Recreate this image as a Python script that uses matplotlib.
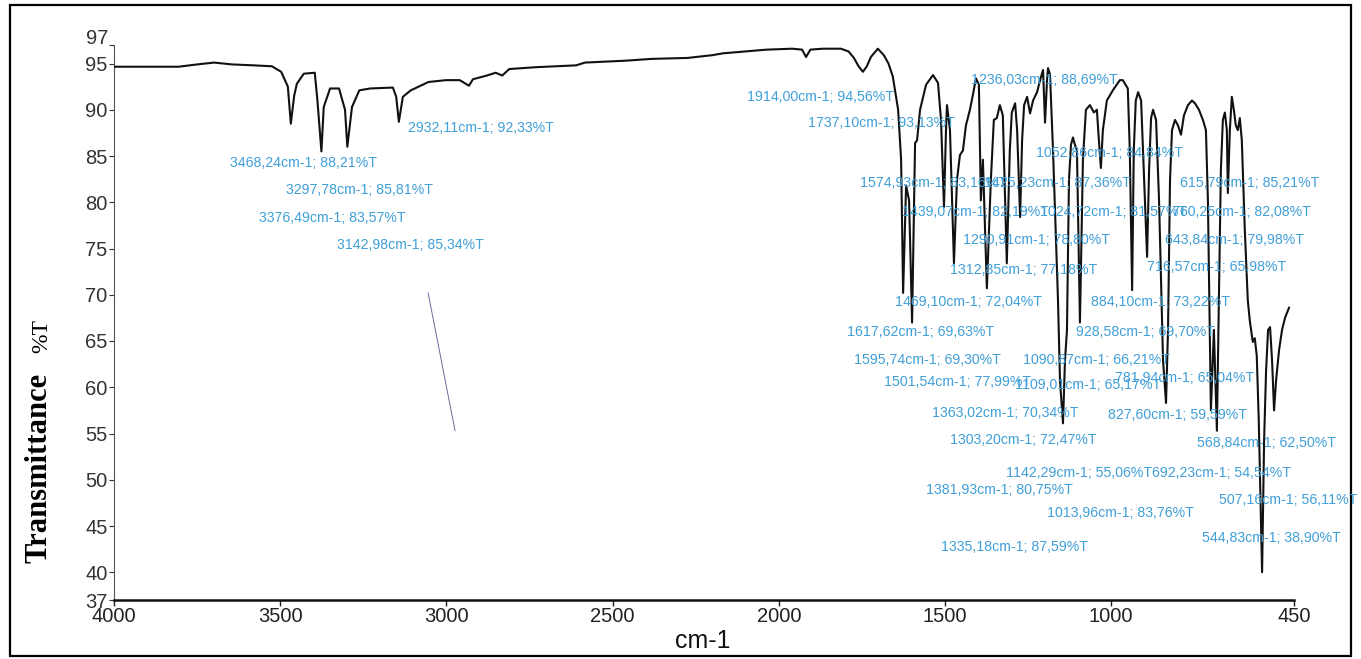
import matplotlib.pyplot as plt
from matplotlib.patches import Rectangle

# spectrum (cm-1, %T)
wavenumber = [
    4000, 3900, 3806, 3750, 3699, 3645, 3580, 3525, 3497, 3477, 3468, 3458, 3450,
    3429, 3396, 3388, 3376, 3369, 3350, 3323, 3305, 3298, 3284, 3262, 3229, 3161,
    3151, 3143, 3131, 3107, 3054, 3001, 2960, 2932, 2920, 2878, 2852, 2832, 2811,
    2731, 2610, 2583, 2463, 2382, 2275, 2200, 2168, 2100, 2036, 1960, 1930, 1918,
    1905, 1867, 1813, 1790, 1774, 1760, 1747, 1735, 1723, 1702, 1684, 1670, 1657,
    1641, 1632, 1626, 1617, 1608, 1599, 1593, 1590, 1584, 1575, 1557, 1536, 1521,
    1512, 1503, 1497, 1494, 1485, 1473, 1464, 1455, 1446, 1437, 1425, 1416, 1407,
    1398, 1392, 1386, 1374, 1362, 1353, 1344, 1335, 1326, 1314, 1305, 1299, 1289,
    1283, 1274, 1268, 1262, 1253, 1244, 1235, 1223, 1214, 1205, 1199, 1193, 1190,
    1184, 1175, 1160, 1154, 1145, 1139, 1133, 1127, 1121, 1115, 1109, 1103, 1094,
    1085, 1076, 1064, 1052, 1043, 1037, 1031, 1025, 1013, 995, 974, 965, 950,
    944, 937, 932, 926, 919, 910, 901, 892, 886, 880, 874, 865, 856, 844, 835,
    829, 823, 817, 808, 799, 790, 781, 769, 757, 748, 736, 724, 715, 709, 700,
    691, 682, 676, 670, 664, 658, 652, 649, 643, 637, 631, 625, 619, 613, 607,
    598, 589, 583, 574, 568, 562, 556, 546, 540, 534, 528, 522, 516, 510, 504,
    495, 486, 477, 465,
]
transmittance = [
    94.65, 94.65, 94.65, 94.9, 95.1, 94.9, 94.8, 94.7, 94.1, 92.5, 88.5, 91.5, 92.8,
    93.9, 94.0, 91.0, 85.5, 90.3, 92.3, 92.3, 90.0, 86.0, 90.3, 92.1, 92.3, 92.4,
    91.4, 88.7, 91.4, 92.1, 93.0, 93.2, 93.2, 92.6, 93.3, 93.7, 94.0, 93.7, 94.4,
    94.6, 94.8, 95.1, 95.3, 95.5, 95.6, 95.9, 96.1, 96.3, 96.5, 96.6, 96.5, 95.7,
    96.5, 96.6, 96.6, 96.3, 95.6, 94.7, 94.1, 94.7, 95.7, 96.6, 95.9, 95.0, 93.6,
    90.0, 84.6, 70.2, 81.8, 80.2, 67.0, 80.2, 86.4, 86.7, 90.0, 92.7, 93.75, 92.9,
    88.9, 79.5, 87.8, 90.5, 87.8, 73.4, 82.4, 85.1, 85.6, 88.3, 90.0, 91.6, 93.4,
    92.7, 80.2, 84.6, 70.7, 82.4, 88.9, 89.1, 90.5, 89.4, 73.4, 85.6, 89.7, 90.7,
    87.8, 78.4, 86.7, 90.5, 91.4, 89.6, 91.0, 91.9, 93.2, 94.3, 88.6, 93.2, 94.5,
    93.8, 85.6, 69.4, 60.7, 56.1, 62.9, 66.2, 82.4, 86.2, 87.0, 86.2, 85.6, 67.0,
    84.6, 90.0, 90.5, 89.7, 90.0, 86.7, 83.7, 87.8, 91.0, 92.1, 93.2, 93.2, 92.3,
    85.6, 70.5, 85.6, 91.0, 91.9, 91.0, 82.4, 74.1, 83.5, 89.1, 90.0, 88.9, 80.2, 62.9, 58.3,
    66.2, 82.4, 87.8, 88.9, 88.3, 87.3, 89.4, 90.5, 91.0, 90.7, 90.0, 88.9, 87.8, 80.2, 57.5,
    66.2, 55.3, 69.4, 83.5, 88.9, 89.7, 87.8, 81.0, 87.8, 91.4, 90.0, 88.3, 87.8, 89.1, 86.7,
    77.0, 69.4, 67.2, 64.9, 65.3, 63.4, 56.4, 40.0, 54.2, 61.8, 66.2, 66.5, 62.9, 57.5, 60.7,
    64.0, 66.2, 67.5, 68.6,
]

# stray pen stroke in the empty area
stray_x = [3055, 2974]
stray_y = [70.2, 55.3]

x_ticks = [4000, 3500, 3000, 2500, 2000, 1500, 1000, 450]
y_ticks = [97, 95, 90, 85, 80, 75, 70, 65, 60, 55, 50, 45, 40, 37]

# peak annotations: text and where it sits in the picture (pixels)
peak_labels = [
    ("3468,24cm-1; 88,21%T", 230, 163),
    ("3297,78cm-1; 85,81%T", 286, 190),
    ("3376,49cm-1; 83,57%T", 259, 218),
    ("3142,98cm-1; 85,34%T", 337, 245),
    ("2932,11cm-1; 92,33%T", 408, 128),
    ("1914,00cm-1; 94,56%T", 747, 97),
    ("1737,10cm-1; 93,13%T", 808, 123),
    ("1236,03cm-1; 88,69%T", 971, 80),
    ("1052,86cm-1; 84,84%T", 1036, 153),
    ("1574,93cm-1; 83,16%T", 860, 183),
    ("1425,23cm-1; 87,36%T", 984, 183),
    ("615,79cm-1; 85,21%T", 1180, 183),
    ("1439,07cm-1; 82,19%T", 902, 212),
    ("1024,72cm-1; 81,57%T", 1040, 212),
    ("760,25cm-1; 82,08%T", 1172, 212),
    ("1290,91cm-1; 78,80%T", 963, 240),
    ("643,84cm-1; 79,98%T", 1165, 240),
    ("1312,85cm-1; 77,18%T", 950, 270),
    ("716,57cm-1; 65,98%T", 1147, 267),
    ("1469,10cm-1; 72,04%T", 895, 302),
    ("884,10cm-1; 73,22%T", 1091, 302),
    ("1617,62cm-1; 69,63%T", 847, 332),
    ("928,58cm-1; 69,70%T", 1076, 332),
    ("1595,74cm-1; 69,30%T", 854, 360),
    ("1090,87cm-1; 66,21%T", 1023, 360),
    ("1501,54cm-1; 77,99%T", 884, 382),
    ("1109,01cm-1; 65,17%T", 1015, 385),
    ("781,94cm-1; 65,04%T", 1115, 378),
    ("1363,02cm-1; 70,34%T", 932, 413),
    ("827,60cm-1; 59,59%T", 1108, 415),
    ("1303,20cm-1; 72,47%T", 950, 440),
    ("568,84cm-1; 62,50%T", 1197, 443),
    ("1142,29cm-1; 55,06%T", 1006, 473),
    ("692,23cm-1; 54,54%T", 1152, 473),
    ("1381,93cm-1; 80,75%T", 926, 490),
    ("507,16cm-1; 56,11%T", 1219, 500),
    ("1013,96cm-1; 83,76%T", 1047, 513),
    ("544,83cm-1; 38,90%T", 1202, 538),
    ("1335,18cm-1; 87,59%T", 941, 547),
]

W, H = 1361, 659
sans = ['Liberation Sans', 'DejaVu Sans']
serif = ['Liberation Serif', 'DejaVu Serif']

fig = plt.figure(figsize=(W / 100, H / 100), dpi=100)
ax = fig.add_axes([114 / W, 1 - 600 / H, (1294 - 114) / W, (600 - 45) / H])

ax.plot(wavenumber, transmittance, color='#111111', lw=1.5, zorder=3,
        solid_joinstyle='round')
ax.plot(stray_x, stray_y, color='#6b6b9c', lw=0.7, zorder=2)

ax.set_xlim(4000, 450)
ax.set_ylim(37, 97)
ax.set_xticks(x_ticks)
ax.set_yticks(y_ticks)
ax.set_xticklabels([str(v) for v in x_ticks], fontfamily=sans, fontsize=14.5)
# the top label sits a little above its tick in the original, drawn separately below
ax.set_yticklabels([''] + [str(v) for v in y_ticks[1:]], fontfamily=sans, fontsize=14.5)
ax.annotate(str(y_ticks[0]), xy=(0, y_ticks[0]), xycoords=('axes fraction', 'data'),
            xytext=(-4, 5), textcoords='offset points', ha='right', va='center',
            fontfamily=sans, fontsize=14.5, color='#333333')
ax.tick_params(axis='x', length=4, width=1, pad=1, colors='#222222')
ax.tick_params(axis='y', length=3.5, width=0.8, pad=1, colors='#333333')

for side in ('top', 'right'):
    ax.spines[side].set_visible(False)
ax.spines['bottom'].set_linewidth(1.8)
ax.spines['bottom'].set_color('#111111')
ax.spines['left'].set_linewidth(0.8)
ax.spines['left'].set_color('#555555')

for txt, px, py in peak_labels:
    fig.text(px / W, 1 - py / H, txt, ha='left', va='center', fontsize=10.2,
             fontfamily=sans, color='#3f9fd8', zorder=1)

fig.text(703 / W, 1 - 641 / H, 'cm-1', ha='center', va='center',
         fontfamily=sans, fontsize=18, color='#111111')
fig.text(47 / W, 1 - 563 / H, 'Transmittance', rotation=90, rotation_mode='anchor',
         ha='left', va='baseline', fontfamily=serif, fontweight='bold', fontsize=22)
fig.text(47 / W, 1 - 353 / H, '%T', rotation=90, rotation_mode='anchor',
         ha='left', va='baseline', fontfamily=serif, fontsize=17)

fig.patches.append(Rectangle((10 / W, 3 / H), 1341 / W, 651 / H, fill=False,
                             lw=1.6, edgecolor='black', transform=fig.transFigure))

fig.savefig('out.png', dpi=100)
